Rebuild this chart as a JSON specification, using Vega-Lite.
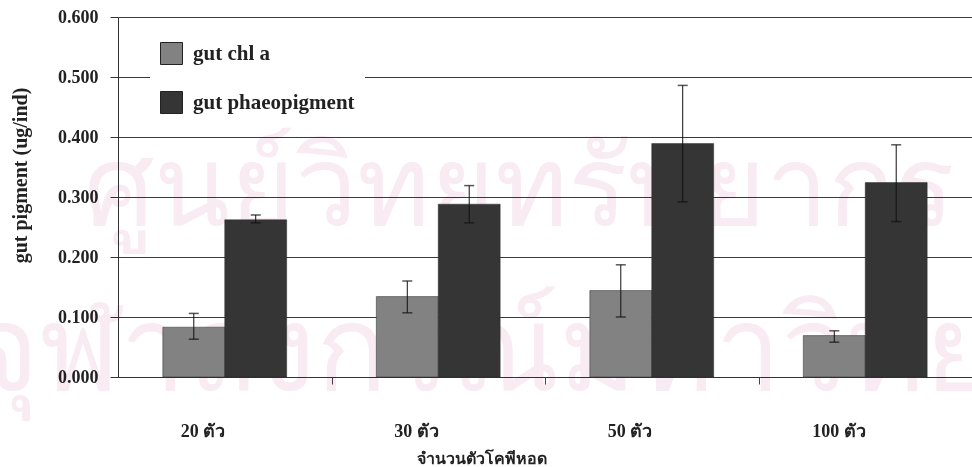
{
  "$schema": "https://vega.github.io/schema/vega-lite/v6.json",
  "width": 854,
  "height": 360,
  "autosize": {"type": "none"},
  "padding": {"left": 118, "top": 17, "right": 0, "bottom": 90},
  "background": "white",
  "config": {
    "view": {"stroke": null},
    "font": "Liberation Serif"
  },
  "datasets": {
    "pigment": [
      {"group": "20 ตัว", "series": "gut chl a", "mean": 0.083, "lo": 0.063, "hi": 0.106},
      {"group": "20 ตัว", "series": "gut phaeopigment", "mean": 0.262, "lo": 0.257, "hi": 0.270},
      {"group": "30 ตัว", "series": "gut chl a", "mean": 0.134, "lo": 0.107, "hi": 0.160},
      {"group": "30 ตัว", "series": "gut phaeopigment", "mean": 0.288, "lo": 0.257, "hi": 0.319},
      {"group": "50 ตัว", "series": "gut chl a", "mean": 0.144, "lo": 0.100, "hi": 0.187},
      {"group": "50 ตัว", "series": "gut phaeopigment", "mean": 0.389, "lo": 0.292, "hi": 0.486},
      {"group": "100 ตัว", "series": "gut chl a", "mean": 0.069, "lo": 0.058, "hi": 0.077},
      {"group": "100 ตัว", "series": "gut phaeopigment", "mean": 0.324, "lo": 0.259, "hi": 0.387}
    ],
    "stampTop": [
      {"line": "ศูนย์วิทยทรัพยากร", "at": "50 ตัว", "level": 0.253}
    ],
    "stampBottom": [
      {"line": "จุฬาลงกรณ์มหาวิทยาลัย", "at": "50 ตัว", "level": -0.022}
    ]
  },
  "layer": [
    {
      "data": {"name": "stampTop"},
      "mark": {"type": "text", "fontSize": 111, "fontWeight": "normal", "color": "#f8ebf2", "blend": "multiply", "baseline": "alphabetic", "align": "center", "dx": -70},
      "encoding": {
        "x": {"field": "at", "type": "nominal", "scale": {"domain": ["20 ตัว", "30 ตัว", "50 ตัว", "100 ตัว"]}, "bandPosition": 0},
        "y": {"field": "level", "type": "quantitative"},
        "text": {"field": "line"}
      }
    },
    {
      "data": {"name": "stampBottom"},
      "mark": {"type": "text", "fontSize": 118, "fontWeight": "normal", "color": "#f8ebf2", "blend": "multiply", "baseline": "alphabetic", "align": "center", "dx": -4},
      "encoding": {
        "x": {"field": "at", "type": "nominal", "bandPosition": 0},
        "y": {"field": "level", "type": "quantitative"},
        "text": {"field": "line"}
      }
    },
    {
      "data": {"name": "pigment"},
      "mark": {"type": "bar", "stroke": "#2a2a2a", "strokeWidth": 0.5},
      "encoding": {
        "x": {
          "field": "group", "type": "nominal",
          "scale": {"domain": ["20 ตัว", "30 ตัว", "50 ตัว", "100 ตัว"], "paddingInner": 0.42, "paddingOuter": 0.21},
          "axis": {
            "title": "จำนวนตัวโคพีหอด",
            "labelAngle": 0,
            "labelFont": "Liberation Serif",
            "labelFontWeight": "bold",
            "labelFontSize": 18,
            "labelColor": "#222",
            "labelPadding": 47,
            "tickOffset": 106.75,
            "labelOffset": -106.75,
            "tickSize": 7,
            "tickColor": "#444",
            "domainColor": "#333",
            "titleFont": "Liberation Serif",
            "titleFontWeight": "bold",
            "titleFontSize": 16,
            "titleColor": "#222",
            "titleX": 363,
            "titleAnchor": "middle",
            "titlePadding": 10
          }
        },
        "xOffset": {"field": "series", "type": "nominal", "scale": {"paddingInner": 0}},
        "y": {
          "field": "mean", "type": "quantitative",
          "scale": {"domain": [0, 0.6], "nice": false, "zero": true},
          "axis": {
            "title": "gut pigment (ug/ind)",
            "values": [0, 0.1, 0.2, 0.3, 0.4, 0.5, 0.6],
            "format": ".3f",
            "labelFont": "Liberation Serif",
            "labelFontWeight": "bold",
            "labelFontSize": 18,
            "labelColor": "#222",
            "labelPadding": 12,
            "tickSize": 8,
            "tickColor": "#333",
            "domainColor": "#333",
            "grid": true,
            "gridColor": "#3a3a3a",
            "gridWidth": 1,
            "titleFont": "Liberation Serif",
            "titleFontWeight": "bold",
            "titleFontSize": 20,
            "titleColor": "#222",
            "titleY": 158,
            "titlePadding": 27
          }
        },
        "color": {
          "field": "series", "type": "nominal",
          "scale": {"domain": ["gut chl a", "gut phaeopigment"], "range": ["#828282", "#353535"]},
          "legend": {
            "title": null,
            "orient": "none",
            "legendX": 32,
            "legendY": 15,
            "padding": 10,
            "fillColor": "white",
            "symbolType": "square",
            "symbolSize": 484,
            "symbolStrokeColor": "#222",
            "symbolStrokeWidth": 1,
            "symbolOpacity": 1,
            "rowPadding": 22,
            "labelOffset": 10,
            "labelLimit": 400,
            "labelFont": "Liberation Serif",
            "labelFontWeight": "bold",
            "labelFontSize": 21,
            "labelColor": "#222"
          }
        }
      }
    },
    {
      "data": {"name": "pigment"},
      "mark": {"type": "rule", "color": "#111", "strokeWidth": 1},
      "encoding": {
        "x": {"field": "group", "type": "nominal"},
        "xOffset": {"field": "series", "type": "nominal"},
        "y": {"field": "lo", "type": "quantitative"},
        "y2": {"field": "hi"}
      }
    },
    {
      "data": {"name": "pigment"},
      "mark": {"type": "tick", "color": "#111", "size": 10, "thickness": 1.5, "orient": "horizontal"},
      "encoding": {
        "x": {"field": "group", "type": "nominal"},
        "xOffset": {"field": "series", "type": "nominal"},
        "y": {"field": "hi", "type": "quantitative"}
      }
    },
    {
      "data": {"name": "pigment"},
      "mark": {"type": "tick", "color": "#111", "size": 10, "thickness": 1.5, "orient": "horizontal"},
      "encoding": {
        "x": {"field": "group", "type": "nominal"},
        "xOffset": {"field": "series", "type": "nominal"},
        "y": {"field": "lo", "type": "quantitative"}
      }
    }
  ]
}
